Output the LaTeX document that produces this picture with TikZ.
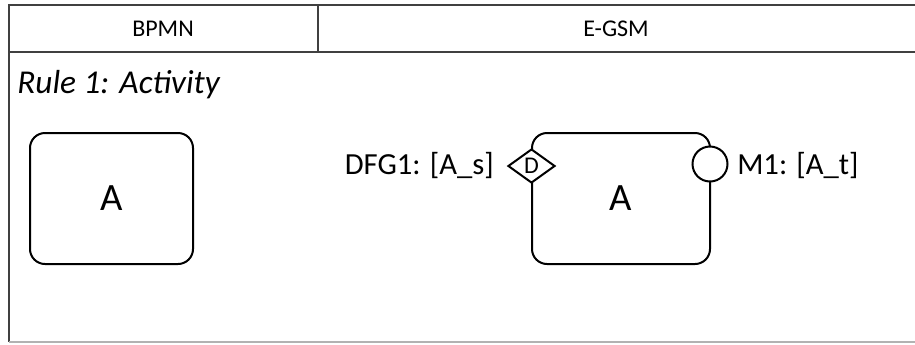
\documentclass[tikz,border=0pt]{standalone}
\usepackage{fontspec}
\setmainfont{Carlito}
\usetikzlibrary{shapes.geometric}
\begin{document}
\begin{tikzpicture}[x=0.75pt,y=-0.75pt,
  grid/.style={draw=black!75,line width=0.8pt},
  task/.style={draw=black,line width=1.5pt,rounded corners=11.25pt,fill=white,
    minimum height=98.25pt,inner sep=0pt,font=\fontsize{29}{33}\selectfont},
  label/.style={inner sep=0pt,font=\fontsize{23}{27}\selectfont},
  head/.style={inner sep=0pt,font=\fontsize{18}{21}\selectfont},
  sentry/.style={draw=black,line width=1.5pt,fill=white,diamond,aspect=1.38,
    minimum width=35.25pt,minimum height=25.5pt,inner sep=0pt,
    font=\fontsize{18}{20}\selectfont},
  milestone/.style={draw=black,line width=1.5pt,fill=white,circle,
    minimum size=26.25pt,inner sep=0pt}]
\useasboundingbox (0,0) rectangle (915,344);
% table frame
\draw[grid] (915,5) -- (9,5) -- (9,342);
\draw[grid] (9,52) -- (915,52);
\draw[grid] (318,5) -- (318,52);
\draw[draw=black!30,line width=0.8pt] (9,342) -- (915,342);
% column headings
\node[head] (hbpmn) at (163,29) {BPMN};
\node[head] (hegsm) at (616,29) {E-GSM};
% rule title
\node[label,anchor=west,font=\fontsize{25}{29}\selectfont\itshape] (rule) at (17,85) {Rule 1: Activity};
% BPMN activity
\node[task,minimum width=122.25pt] (bact) at (111.5,198.5) {A};
% E-GSM stage with sentry and milestone
\node[task,minimum width=133.5pt] (stage) at (621,198.5) {A};
\node[sentry] (dfg) at (531.5,166) {D};
\node[milestone] (m1) at (710,164) {};
\node[label,anchor=east] (dfglbl) at (494,166) {DFG1: [A\_s]};
\node[label,anchor=west] (m1lbl) at (737,166) {M1: [A\_t]};
\end{tikzpicture}
\end{document}
